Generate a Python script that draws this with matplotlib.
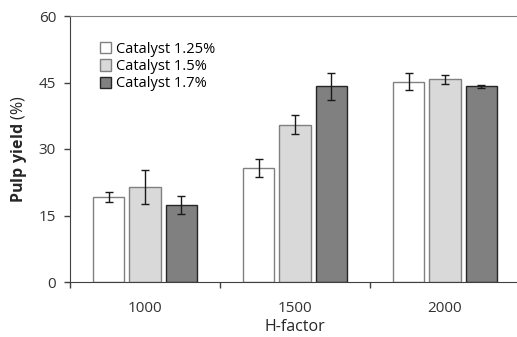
import numpy as np
import matplotlib
matplotlib.use('Agg')
import matplotlib.pyplot as plt

plt.rcParams['font.family'] = ['Open Sans', 'DejaVu Sans']
plt.rcParams['mathtext.fontset'] = 'custom'
plt.rcParams['mathtext.bf'] = 'Open Sans:bold'
plt.rcParams['mathtext.rm'] = 'Open Sans'

h_factor = ['1000', '1500', '2000']
series_names = ['Catalyst 1.25%', 'Catalyst 1.5%', 'Catalyst 1.7%']
yield_125 = [19.2, 25.7, 45.2]
yield_15 = [21.4, 35.5, 45.7]
yield_17 = [17.3, 44.1, 44.1]
err_125 = [1.1, 2.0, 2.0]
err_15 = [3.9, 2.1, 1.1]
err_17 = [2.0, 3.0, 0.3]

fills = ['white', '#d9d9d9', '#808080']
edges = ['#808080', '#808080', '#262626']

fig = plt.figure(figsize=(5.17, 3.37), dpi=100)
ax = fig.add_axes([70/517, 55/337, 450/517, 266/337])

x = np.arange(len(h_factor))
width = 0.207
step = 0.243
values = [yield_125, yield_15, yield_17]
errors = [err_125, err_15, err_17]
for i, (vals, errs) in enumerate(zip(values, errors)):
    ax.bar(x + (i - 1) * step, vals, width, color=fills[i], edgecolor=edges[i],
           linewidth=1.0, label=series_names[i], zorder=2)
    ax.errorbar(x + (i - 1) * step, vals, yerr=errs, fmt='none', ecolor='#1a1a1a',
                elinewidth=1.0, capsize=3, capthick=1.0, zorder=3)

ax.set_xlim(-0.5, 2.5)
ax.set_ylim(0, 60)
ax.set_yticks([0, 15, 30, 45, 60])
ax.set_xticks(x)
ax.set_xticklabels(h_factor)
ax.set_xticks([-0.5, 0.5, 1.5], minor=True)
ax.tick_params(axis='x', which='major', length=0, pad=14, labelsize=11, colors='#333333')
ax.tick_params(axis='x', which='minor', length=4, width=1, color='#404040')
ax.tick_params(axis='y', length=4, width=1, color='#404040', labelsize=11,
               labelcolor='#333333', pad=6)

ax.spines['right'].set_visible(False)
ax.spines['top'].set_color('#808080')
ax.spines['left'].set_color('#404040')
ax.spines['bottom'].set_color('#404040')

ax.set_xlabel('H-factor', fontsize=11.5, color='#262626', labelpad=2)
ax.set_ylabel(r'$\mathbf{Pulp\ yield}$ (%)', fontsize=11.5, color='#262626', labelpad=7)

ax.legend(loc='upper left', bbox_to_anchor=(0.05, 0.93), frameon=False, fontsize=10.5,
          handlelength=0.8, handleheight=0.8, handletextpad=0.3, labelspacing=0.15,
          borderpad=0)

fig.savefig('out.png', dpi=100)
